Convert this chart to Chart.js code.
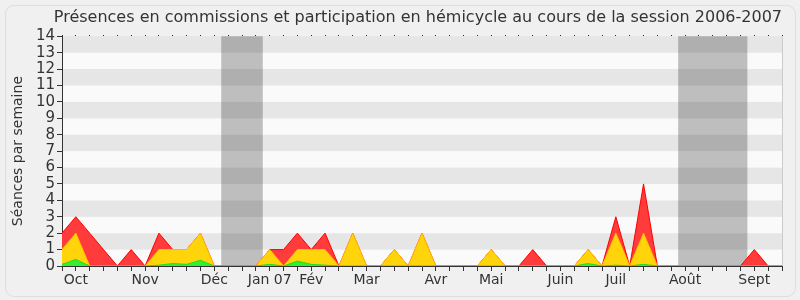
<!DOCTYPE html>
<html>
<head>
<meta charset="utf-8">
<script src="https://cdn.jsdelivr.net/npm/chart.js@4/dist/chart.umd.min.js"></script>
<style>
  html, body { margin: 0; padding: 0; background: #F0F0F0; }
  #wrap { position: relative; width: 800px; height: 300px; }
  #frame { position: absolute; left: 5px; top: 5px; width: 789px; height: 290px;
           border: 1px solid #DEDEDE; border-radius: 9px; }
  canvas { position: absolute; left: 0; top: 0; }
</style>
</head>
<body>
<div id="wrap">
  <div id="frame"></div>
  <canvas id="presenceChart" width="800" height="300"></canvas>
</div>
<script>
// Weekly values, session 2006-2007 (53 weeks)
const totalSeances = [2, 3, 2, 1, 0, 1, 0, 2, 1, 1, 2, 0, 0, 0, 0, 1, 1, 2, 1, 2, 0, 2, 0, 0, 1, 0, 2, 0, 0, 0, 0, 1, 0, 0, 1, 0, 0, 0, 1, 0, 3, 0, 5, 0, 0, 0, 0, 0, 0, 0, 1, 0, 0];
const hemicycle   = [1, 2, 0, 0, 0, 0, 0, 1, 1, 1, 2, 0, 0, 0, 0, 1, 0, 1, 1, 1, 0, 2, 0, 0, 1, 0, 2, 0, 0, 0, 0, 1, 0, 0, 0, 0, 0, 0, 1, 0, 2, 0, 2, 0, 0, 0, 0, 0, 0, 0, 0, 0, 0];
const commissions = [0.1, 0.4, 0, 0, 0, 0, 0, 0.05, 0.15, 0.1, 0.35, 0, 0, 0, 0, 0.1, 0, 0.3, 0.1, 0.05, 0, 0, 0, 0, 0, 0, 0, 0, 0, 0, 0, 0, 0, 0, 0, 0, 0, 0, 0.15, 0, 0.05, 0, 0.1, 0, 0, 0, 0, 0, 0, 0, 0, 0, 0];

// Month labels and the week they sit on
const monthLabels = ['Oct', 'Nov', 'Déc', 'Jan 07', 'Fév', 'Mar', 'Avr', 'Mai', 'Juin', 'Juil', 'Août', 'Sept'];
const monthWeeks  = [1, 6, 11, 15, 18, 22, 27, 31, 36, 40, 45, 50];

// Holiday periods (in weeks)
const vacStart = [11.5, 44.5];
const vacEnd   = [14.5, 49.5];

const weekLabels = totalSeances.map((v, i) => {
    const k = monthWeeks.indexOf(i);
    return k >= 0 ? monthLabels[k] : '';
});

const fontFamily = 'DejaVu Sans';

// background stripes and holiday bands
const backgroundPlugin = {
    id: 'background',
    beforeDraw(chart) {
        const { ctx, chartArea, scales } = chart;
        const y = scales.y, x = scales.x;
        ctx.save();
        for (let v = 0; v < 14; v++) {
            ctx.fillStyle = v % 2 === 0 ? '#FAFAFA' : '#E6E6E6';
            const top = y.getPixelForValue(v + 1);
            const bottom = y.getPixelForValue(v);
            ctx.fillRect(chartArea.left, top, chartArea.right - chartArea.left, bottom - top);
        }
        ctx.fillStyle = 'rgba(0, 0, 0, 0.24)';
        vacStart.forEach((s, i) => {
            const x0 = x.getPixelForValue(s);
            const x1 = x.getPixelForValue(vacEnd[i]);
            ctx.fillRect(x0, chartArea.top, x1 - x0, chartArea.bottom - chartArea.top);
        });
        ctx.strokeStyle = '#CCCCCC';
        ctx.lineWidth = 1;
        ctx.beginPath();
        ctx.moveTo(chartArea.right + 0.5, chartArea.top);
        ctx.lineTo(chartArea.right + 0.5, chartArea.bottom);
        ctx.stroke();
        ctx.restore();
    }
};

const ctx = document.getElementById('presenceChart').getContext('2d');
new Chart(ctx, {
    type: 'line',
    data: {
        labels: weekLabels,
        datasets: [
            {
                label: 'Séances',
                data: totalSeances,
                borderColor: '#FF0000',
                backgroundColor: '#FF3B3B',
                fill: 'origin',
                order: 3
            },
            {
                label: 'Hémicycle',
                data: hemicycle,
                borderColor: '#FFC000',
                backgroundColor: '#FFD40A',
                fill: 'origin',
                order: 2
            },
            {
                label: 'Commissions',
                data: commissions,
                borderColor: '#22DD22',
                backgroundColor: '#33EE33',
                fill: 'origin',
                order: 1
            }
        ]
    },
    options: {
        responsive: false,
        animation: false,
        layout: {
            padding: { left: 0, right: 18, top: 0, bottom: 0 }
        },
        elements: {
            line: { borderWidth: 1, tension: 0 },
            point: { radius: 0, hoverRadius: 0 }
        },
        plugins: {
            legend: { display: false },
            tooltip: { enabled: false },
            title: {
                display: true,
                align: 'end',
                text: 'Présences en commissions et participation en hémicycle au cours de la session 2006-2007',
                color: '#333333',
                font: { family: fontFamily, size: 16, weight: 'normal' },
                padding: { top: 8, bottom: 9 }
            }
        },
        scales: {
            x: {
                type: 'category',
                offset: false,
                grid: {
                    drawOnChartArea: false,
                    drawTicks: true,
                    tickLength: 5,
                    color: '#333333'
                },
                border: { color: '#333333' },
                ticks: {
                    autoSkip: false,
                    maxRotation: 0,
                    padding: 1,
                    color: '#333333',
                    font: { family: fontFamily, size: 14 }
                },
                afterFit(scale) { scale.height = 34; }
            },
            x2: {
                type: 'category',
                position: 'top',
                offset: false,
                grid: {
                    drawOnChartArea: false,
                    drawTicks: true,
                    tickLength: 1,
                    color: '#000000'
                },
                border: { display: false },
                ticks: { display: false, autoSkip: false },
                afterFit(scale) { scale.height = 0; }
            },
            y: {
                min: 0,
                max: 14,
                grid: {
                    drawOnChartArea: false,
                    drawTicks: true,
                    tickLength: 5,
                    color: '#333333'
                },
                border: { color: '#333333' },
                ticks: {
                    stepSize: 1,
                    autoSkip: false,
                    padding: 2,
                    color: '#333333',
                    font: { family: fontFamily, size: 15 }
                },
                title: {
                    display: true,
                    text: 'Séances par semaine',
                    color: '#333333',
                    font: { family: fontFamily, size: 14 },
                    padding: { top: 10, bottom: 0 }
                },
                afterFit(scale) { scale.width = 62; }
            }
        }
    },
    plugins: [backgroundPlugin]
});
</script>
</body>
</html>
